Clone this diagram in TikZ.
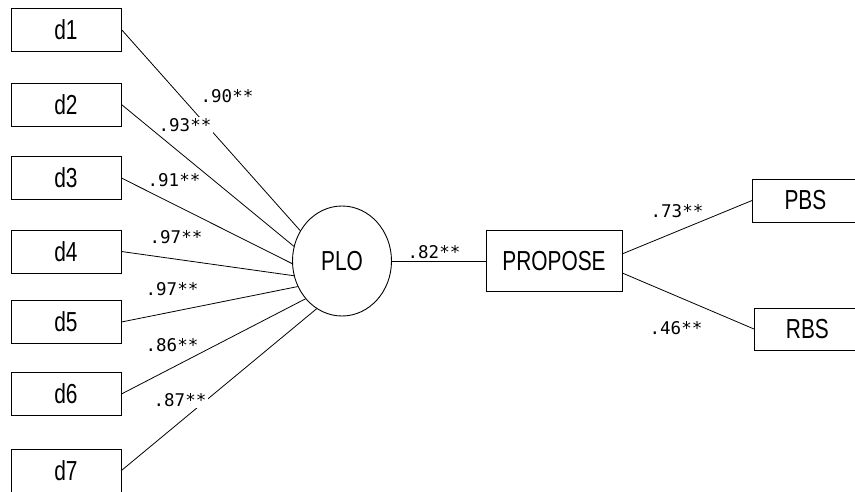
\documentclass[tikz,border=0pt]{standalone}
\usepackage{fontspec}
\usetikzlibrary{shapes.geometric}
\newfontfamily\boxfont[FakeStretch=0.76]{Liberation Sans}
\newfontfamily\coeffont{DejaVu Sans Mono}
\tikzset{
	obsbox/.style={draw, line width=0.9pt, minimum width=110pt, minimum height=43pt, inner sep=0pt, font=\boxfont\fontsize{27.5}{27.5}\selectfont},
	latent/.style={draw, ellipse, line width=0.9pt, minimum width=99pt, minimum height=110pt, inner sep=0pt, font=\boxfont\fontsize{27.5}{27.5}\selectfont},
	link/.style={line width=0.8pt},
	coef/.style={fill=white, inner sep=1.5pt, font=\coeffont\fontsize{17.5}{17.5}\selectfont}
}

\begin{document}
\begin{tikzpicture}[x=1pt, y=-1pt]
			%%%%% START %%%%%
			\useasboundingbox (0, 0) rectangle (855, 491);
			\clip (0, 0) rectangle (855, 491);
			
			% indicators
			\foreach \i/\y in {1/29.5, 2/104.5, 3/178, 4/251.5, 5/322, 6/394, 7/470.5}
				\node[obsbox] (d\i) at (66, \y) {d\i};
			
			\node[latent] (plo) at (342, 261) {PLO};
			\node[obsbox, minimum width=136pt, minimum height=61pt] (propose) at (554, 261) {PROPOSE};
			\node[obsbox, anchor=west, minimum width=106pt] (pbs) at (752, 200.5) {PBS};
			\node[obsbox, anchor=west, minimum width=106pt, minimum height=42pt] (rbs) at (754, 329) {RBS};
			
			% loadings
			\foreach \i/\a in {1/144, 2/163, 3/183, 4/197, 5/210, 6/226, 7/242}
				\draw[link] (d\i.east) -- (plo.\a);
			
			\draw[link] (plo) -- (propose);
			\draw[link] (propose.6) -- (pbs.west);
			\draw[link] (propose.-10) -- (rbs.west);
			
			% coefficients
			\node[coef] (c1) at (227, 96) {.90**};
			\node[coef] (c2) at (185, 125) {.93**};
			\node[coef] (c3) at (174, 180) {.91**};
			\node[coef] (c4) at (176, 237) {.97**};
			\node[coef] (c5) at (172, 289) {.97**};
			\node[coef] (c6) at (172, 345) {.86**};
			\node[coef] (c7) at (180, 400) {.87**};
			\node[coef, inner sep=0.5pt] (c8) at (434, 252.5) {.82**};
			\node[coef] (c9) at (677, 211) {.73**};
			\node[coef] (c10) at (676, 328) {.46**};
			%%%%% END %%%%%
\end{tikzpicture}
\end{document}
